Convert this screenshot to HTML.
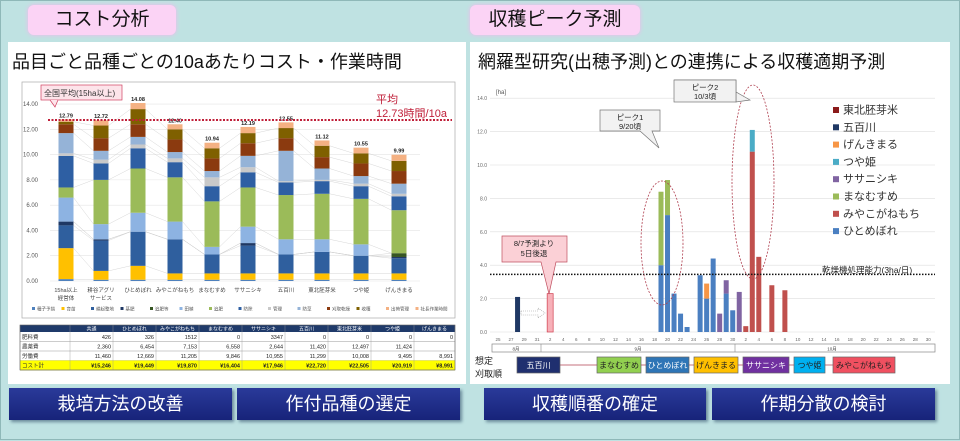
<!DOCTYPE html>
<html><head><meta charset="utf-8">
<style>
body{margin:0;width:960px;height:441px;background:#bfe2e2;font-family:"Liberation Sans","Noto Sans CJK JP",sans-serif;position:relative;overflow:hidden}
.abs{position:absolute}
.tab{background:#fbd3f5;border-radius:6px;box-shadow:0 0 4px #f3b7ec;font-size:19px;color:#111;text-align:center;line-height:30px}
.panel{background:#fff}
.sub{font-size:18px;color:#111;white-space:nowrap}
.btn{background:linear-gradient(#2a3a9a,#17237a);color:#fff;font-size:18px;text-align:center;line-height:32px;box-shadow:2px 2px 3px #6a8a9a}
</style></head><body>
<div class="abs" style="left:0;top:0;width:958px;height:438px;border:1px solid #8fb8b8"></div>
<div class="abs tab" style="left:28px;top:5px;width:148px;height:30px">コスト分析</div>
<div class="abs tab" style="left:470px;top:5px;width:170px;height:30px">収穫ピーク予測</div>
<div class="abs panel" style="left:8px;top:42px;width:458px;height:342px"></div>
<div class="abs panel" style="left:470px;top:42px;width:480px;height:342px"></div>
<div class="abs sub" style="left:12px;top:48px">品目ごと品種ごとの10aあたりコスト・作業時間</div>
<div class="abs sub" style="left:478px;top:48px">網羅型研究(出穂予測)との連携による収穫適期予測</div>
<div class="abs btn" style="left:9px;top:388px;width:223px;height:32px">栽培方法の改善</div>
<div class="abs btn" style="left:237px;top:388px;width:223px;height:32px">作付品種の選定</div>
<div class="abs btn" style="left:484px;top:388px;width:222px;height:32px">収穫順番の確定</div>
<div class="abs btn" style="left:712px;top:388px;width:223px;height:32px">作期分散の検討</div>

<svg class="abs" style="left:0;top:0" width="960" height="441" id="s" font-family="Liberation Sans, Noto Sans CJK JP, sans-serif"></svg>
<script>
var s=document.getElementById('s'),h='';
function R(x,y,w,hh,f,st){h+='<rect x="'+x+'" y="'+y+'" width="'+w+'" height="'+hh+'" fill="'+f+'"'+(st?' stroke="'+st+'" stroke-width="0.7"':'')+'/>';}
function T(x,y,t,sz,f,a,w){h+='<text x="'+x+'" y="'+y+'" font-size="'+sz+'" fill="'+(f||'#333')+'" text-anchor="'+(a||'start')+'"'+(w?' font-weight="bold"':'')+'>'+t+'</text>';}
function L(x1,y1,x2,y2,c,w,d){h+='<line x1="'+x1+'" y1="'+y1+'" x2="'+x2+'" y2="'+y2+'" stroke="'+c+'" stroke-width="'+(w||1)+'"'+(d?' stroke-dasharray="'+d+'"':'')+'/>';}
// left chart
R(22,82,433,236,'#fff','#aaa');
function yl(v){return 281-v*12.64;}
for(var i=0;i<=7;i++){L(50,yl(i*2),420,yl(i*2),'#e4e4e4',0.6);T(38,yl(i*2)+2,(i*2).toFixed(2),6,'#555','end');}
var cols=['#4f81bd','#ffc000','#2f5f9e','#1f3864','#375623','#8db3e2','#9bbb59','#2e5fa3','#c9c9c9','#95b3d7','#8b3a0f','#7f6000','#f4b183'];
var B=[[.15,2.6,4.4,4.7,4.7,6.6,7.4,9.9,10.1,11.7,12.4,12.6,12.79],
[.1,.8,3.2,3.3,3.3,4.5,8.0,9.3,9.6,10.3,11.3,12.3,12.72],
[.1,1.2,3.9,3.9,3.9,5.4,8.9,10.5,10.8,11.4,12.4,13.6,14.08],
[.1,.6,3.3,3.3,3.3,4.7,8.2,9.4,9.7,10.2,11.2,12.0,12.4],
[.1,.6,2.1,2.1,2.1,2.7,6.3,7.5,8.2,8.7,9.7,10.5,10.94],
[.1,.6,2.8,3.0,3.0,4.3,7.4,8.6,9.0,9.9,10.9,11.7,12.19],
[.1,.6,2.1,2.1,2.1,3.3,6.8,7.8,7.9,10.3,11.3,12.1,12.55],
[.1,.6,2.3,2.3,2.3,3.3,6.9,7.9,8.0,8.9,9.8,10.7,11.12],
[.1,.6,2.0,2.0,2.0,2.9,6.5,7.5,7.7,8.3,9.3,10.1,10.55],
[.1,.6,1.8,1.9,2.2,2.2,5.6,6.7,6.9,7.7,8.7,9.5,9.99]];
var cx=[66,101,138,175,212,248,286,322,361,399];
var names=[['15ha以上','経営体'],['耕谷アグリ','サービス'],['ひとめぼれ'],['みやこがねもち'],['まなむすめ'],['ササニシキ'],['五百川'],['東北胚芽米'],['つや姫'],['げんきまる']];
for(var k=0;k<12;k++)for(var b=0;b<9;b++)L(cx[b]+7.5,yl(B[b][k]),cx[b+1]-7.5,yl(B[b+1][k]),'#ccc',0.4);
B.forEach(function(a,b){var p=0;a.forEach(function(v,k){if(v>p)R(cx[b]-7.5,yl(v),15,yl(p)-yl(v),cols[k]);p=v;});
T(cx[b],yl(a[12])-2,a[12].toFixed(2),5.5,'#222','middle',1);
names[b].forEach(function(n,j){T(cx[b],292+j*8,n,5.5,'#444','middle');});});
L(48,120,452,120,'#c0203a',2,'2 1.5');
T(376,103,'平均',11,'#c0203a');T(376,117,'12.73時間/10a',11,'#c0203a');
R(41,85,81,15,'#fde4ea','#d04060');h+='<path d="M50 100 L55 107 L58 100" fill="#fde4ea" stroke="#d04060" stroke-width="0.7"/>';
T(44,96,'全国平均(15ha以上)',8,'#333');
var lg=['種子予措','育苗','耕起整地','基肥','追肥等','田植','追肥','防除','管理','防草','刈取乾燥','收穫','出荷管理','社長作業時間'];
for(var i=0;i<14;i++){var x=32+i*29.5;R(x,307,3,3,cols[Math.min(i,12)]);T(x+5,310.5,lg[i],4.5,'#555');}
// table
var tx=[20,70,113,156,199,242,285,328,371,414,455];
R(20,325,435,7,'#1f3a6a');
var th=['共通','ひとめぼれ','みやこがねもち','まなむすめ','ササニシキ','五百川','東北胚芽米','つや姫','げんきまる'];
th.forEach(function(t,i){T((tx[i+1]+tx[i+2])/2,330.5,t,5,'#fff','middle');});
var rows=[['肥料費','426','326','1512','0','3347','0','0','0','0'],['農薬費','2,360','6,454','7,153','6,558','2,644','11,420','12,497','11,424',''],['労働費','11,460','12,669','11,205','9,846','10,955','11,299','10,008','9,495','8,991'],['コスト計','¥15,246','¥19,449','¥19,870','¥16,404','¥17,946','¥22,720','¥22,505','¥20,919','¥8,991']];
rows.forEach(function(r,j){var y=332+j*9.5;if(j==3)R(20,y,435,10,'#ffff00');
r.forEach(function(t,i){if(i==0)T(22,y+7,t,5.5,'#333');else T(tx[i+1]-2,y+7,t,5.5,'#222','end',j==3);});
L(20,y+9.5,455,y+9.5,'#999',0.5);});
for(var i=0;i<11;i++)L(tx[i],325,tx[i],370,'#999',0.4);
h+='<rect x="20" y="325" width="435" height="45" fill="none" stroke="#666" stroke-width="0.6"/>';
// right chart
function yr(v){return 332-v*16.7;}function xr(d){return 498+d*6.52;}
for(var i=0;i<=7;i++){L(490,yr(i*2),935,yr(i*2),'#ddd',0.6);T(487,yr(i*2)+2,(i*2).toFixed(1),5,'#666','end');}
T(496,94,'[ha]',6,'#555');
var C={hb:'#4a7fc1',ma:'#9bbb59',mi:'#c0504d',sa:'#8064a2',ts:'#4bacc6',ge:'#f79646',go:'#1f3864',to:'#8b1a1a'};
var bars=[[3,[['go',2.1]]],[25,[['hb',4.0],['ma',4.4]]],[26,[['hb',7.0],['ma',2.1]]],[27,[['hb',2.3]]],[28,[['hb',1.1]]],[29,[['hb',0.3]]],[31,[['hb',3.4]]],[32,[['hb',2.0],['ge',0.9]]],[33,[['hb',4.4]]],[34,[['sa',1.1]]],[35,[['hb',2.3],['sa',0.8]]],[36,[['hb',1.3]]],[37,[['sa',2.4]]],[38,[['mi',0.35]]],[39,[['mi',10.8],['ts',1.3]]],[40,[['mi',4.5]]],[42,[['mi',2.8]]],[44,[['mi',2.5]]]];
bars.forEach(function(b){var p=0;b[1].forEach(function(s){R(xr(b[0])-2.5,yr(p+s[1]),5,s[1]*16.7,C[s[0]]);p+=s[1];});});
R(xr(8)-3,yr(2.3),6,2.3*16.7,'#f7b0b8','#d04050');
L(490,yr(3.45),935,yr(3.45),'#111',1.5,'1.5 1.5');
T(822,273,'乾燥機処理能力(3ha/日)',8.5,'#222');
// x labels
var days=[];for(var d=25;d<=31;d++)days.push(d);for(var d=1;d<=30;d++)days.push(d);for(var d=1;d<=30;d++)days.push(d);
days.forEach(function(d,i){if(i%2==0)T(xr(i),341,d,4.5,'#666','middle');});
R(492,344,443,8,'#fff','#888');L(541,344,541,352,'#888',0.6);L(735,344,735,352,'#888',0.6);
T(516,350.5,'8月',4.5,'#444','middle');T(638,350.5,'9月',4.5,'#444','middle');T(832,350.5,'10月',4.5,'#444','middle');
// legend
var lgr=[['東北胚芽米','to'],['五百川','go'],['げんきまる','ge'],['つや姫','ts'],['ササニシキ','sa'],['まなむすめ','ma'],['みやこがねもち','mi'],['ひとめぼれ','hb']];
lgr.forEach(function(l,i){var y=112+i*17.3;R(833,y-5,6,6,C[l[1]]);T(843,y+1.5,l[0],11,'#333');});
// ellipses & callouts
h+='<ellipse cx="662" cy="243" rx="21" ry="62" fill="none" stroke="#b04050" stroke-width="0.8" stroke-dasharray="2 1.5"/>';
h+='<ellipse cx="753" cy="182" rx="21" ry="97" fill="none" stroke="#b04050" stroke-width="0.8" stroke-dasharray="2 1.5"/>';
h+='<path d="M600 110 H660 V131 H652 L659 148 L640 131 H600 Z" fill="#f2f2f2" stroke="#777" stroke-width="0.7"/>';
T(630,120,'ピーク1',7.5,'#222','middle');T(630,129,'9/20頃',7.5,'#222','middle');
h+='<path d="M674 80 H736 V102 H736 L750 100 L736 92 Z" fill="#f2f2f2" stroke="#777" stroke-width="0.7"/><rect x="674" y="80" width="62" height="22" fill="#f2f2f2" stroke="#777" stroke-width="0.7"/>';
T(705,90,'ピーク2',7.5,'#222','middle');T(705,99,'10/3頃',7.5,'#222','middle');
h+='<path d="M502 236 H567 V262 H556 L549 294 L541 262 H502 Z" fill="#fbd0d6" stroke="#c05060" stroke-width="0.7"/>';
T(534,246,'8/7予測より',7.5,'#222','middle');T(534,256,'5日後退',7.5,'#222','middle');
h+='<path d="M521 311 H538 V308 L545 313 L538 318 V315 H521 Z" fill="#fff" stroke="#999" stroke-width="0.6" stroke-dasharray="1 1"/>';
// order boxes
T(475,364,'想定',9,'#222');T(475,377,'刈取順',9,'#222');
L(517,365,895,365,'#b04050',0.8);
var ob=[[517,43,'#1f2f6f','#fff','五百川'],[597,44,'#92d050','#222','まなむすめ'],[646,43,'#2e75b6','#fff','ひとめぼれ'],[694,44,'#ffc000','#222','げんきまる'],[743,46,'#7030a0','#fff','ササニシキ'],[794,31,'#00b0f0','#222','つや姫'],[833,62,'#f05060','#222','みやこがねもち']];
ob.forEach(function(o){R(o[0],357,o[1],16,o[2],'#666');T(o[0]+o[1]/2,368,o[4],8,o[3],'middle');});
s.innerHTML=h;
</script>
</body></html>
